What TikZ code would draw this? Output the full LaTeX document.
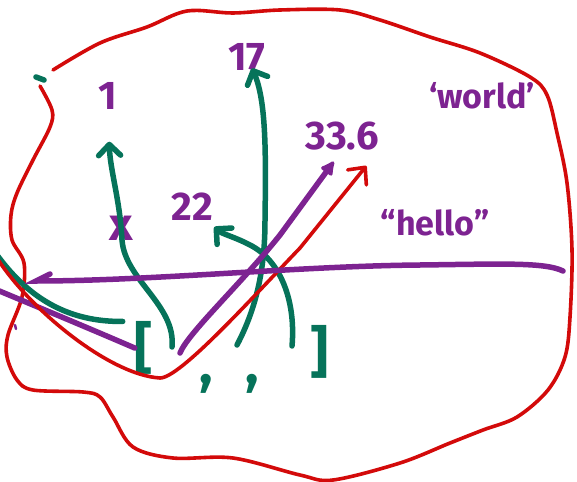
\documentclass[tikz,border=0pt]{standalone}
\usepackage{fontspec}
\usepackage{tikz}
\usetikzlibrary{arrows.meta}
\newfontfamily\hand{Fira Sans}
\definecolor{rim}{HTML}{D30A0A}
\definecolor{grn}{HTML}{06735A}
\definecolor{vio}{HTML}{7D2391}

\begin{document}
\begin{tikzpicture}[x=1pt,y=-1pt,
 lbl/.style={text=vio,font=\hand\bfseries\fontsize{40}{40}\selectfont,inner sep=0pt},
 wrd/.style={lbl,font=\hand\bfseries\fontsize{34}{34}\selectfont},
 brk/.style={text=grn,font=\hand\bfseries\fontsize{56}{56}\selectfont,inner sep=0pt},
 gline/.style={draw=grn,line width=5.5pt,line cap=round},
 garr/.style={gline,-{Straight Barb[round,length=11pt,width=22pt]}},
 pline/.style={draw=vio,line width=5.5pt,line cap=round},
 rline/.style={draw=rim,line width=3.6pt,line cap=round,line join=round}]
\useasboundingbox (0,0) rectangle (577,481);
% the blob
\draw[rline] plot[smooth,tension=0.55] coordinates {(53,70) (100,43) (147,27)
 (187,11) (233,13) (280,10) (340,10) (380,20) (430,37) (480,53) (530,77)
 (547,95) (557,133) (567,183) (572,250) (570,317) (565,357) (548,390)
 (517,417) (483,430) (450,443) (400,463) (333,480) (300,475) (233,458)
 (173,458) (133,447) (113,417) (100,397) (83,392) (33,390) (17,380) (7,357)
 (8,335) (22,297) (24,263) (12,240) (11,215) (17,193) (33,160) (50,127)
 (52,110) (40,86)};
\draw[gline] (36,77) -- (44,80);
% values
\node[lbl] (one) at (108,96) {1};
\node[lbl] (svt) at (247,57) {17};
\node[lbl] (tt) at (192,207) {22};
\node[lbl,font=\hand\bfseries\fontsize{46}{46}\selectfont] (xv) at (121,228) {x};
\node[lbl] (flt) at (342,136) {33.6};
\node[wrd] (hel) at (435,223) {“hello”};
\node[wrd] (wld) at (482,96) {‘world’};
% the list
\node[brk] (lb) at (144,348) {[};
\node[brk] (rb) at (320,352) {]};
\node[brk] (ca) at (206,384) {,};
\node[brk] (cb) at (252,384) {,};
\coordinate (ta) at (172,347);
\coordinate (tb) at (237,345);
\coordinate (tc) at (292,346);
\coordinate (td) at (180,353);
\coordinate (gs) at (-3,255);
\coordinate (ps) at (-3,290);
\coordinate (rs) at (-3,258);
% connectors
\draw[garr,shorten >=32pt] (ta) .. controls (176,305) and (125,280) .. (122,240)
 .. controls (120,200) and (110,170) .. (one);
\draw[garr,shorten >=-3pt] (tb) .. controls (258,305) and (265,265) .. (265,220)
 .. controls (266,150) and (266,100) .. (svt);
\draw[garr,shorten >=9pt] (tc) .. controls (296,300) and (280,260) .. (250,245)
 .. controls (235,237) and (222,234) .. (tt);
\draw[gline,shorten >=12pt] (gs) .. controls (30,300) and (70,322) .. (lb.north west);
\draw[pline] (ps) .. controls (50,312) and (100,333) .. (lb.west);
\draw[pline,-{Latex[round,length=17pt,width=17pt]},shorten >=14pt] (td)
 .. controls (188,333) and (240,285) .. (280,235) -- (flt.south);
\draw[rline,-{Straight Barb[round,length=13pt,width=24pt]},shorten >=20pt] (rs)
 .. controls (30,310) and (110,375) .. (160,378)
 .. controls (180,378) and (250,300) .. (300,248) -- (flt.south east);
\draw[pline] (50,274) -- (36,281) .. controls (150,281) and (300,266) .. (420,265)
 .. controls (500,264) and (545,262) .. (563,271);
\draw[pline,line width=2.5pt] (15,325) -- (16,329);
\end{tikzpicture}
\end{document}
